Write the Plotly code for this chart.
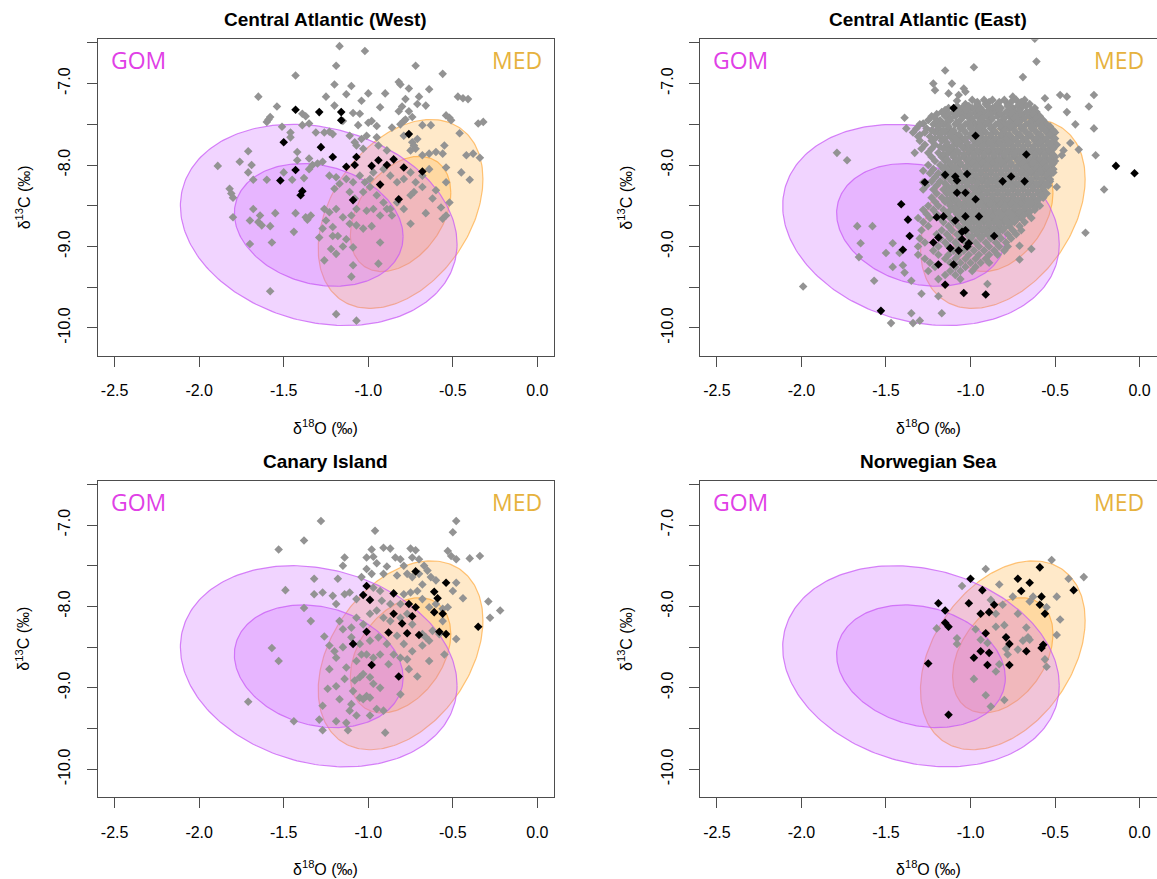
import numpy as np
import plotly.graph_objects as go

# ---------------------------------------------------------------------------
# Axis limits and ticks (shared by all four panels)
# ---------------------------------------------------------------------------
X_RANGE = [-2.6, 0.1]
Y_RANGE = [-10.344, -6.456]
x_ticks = [-2.5, -2.0, -1.5, -1.0, -0.5, 0.0]
x_tick_text = ["-2.5", "-2.0", "-1.5", "-1.0", "-0.5", "0.0"]
y_ticks = [-10.0, -9.0, -8.0, -7.0]
y_tick_text = ["-10.0", "-9.0", "-8.0", "-7.0"]
y_minor_ticks = [-9.5, -8.5, -7.5, -6.5]

panel_titles = ["Central Atlantic (West)", "Central Atlantic (East)",
                "Canary Island", "Norwegian Sea"]

# ---------------------------------------------------------------------------
# Baseline isotope ellipses: centre, half-extent of outer contour, correlation
# ---------------------------------------------------------------------------
gom_centre = (-1.293, -8.735)
gom_half = (0.818, 1.235)
gom_rho = -0.19
med_centre = (-0.809, -8.600)
med_half = (0.487, 1.160)
med_rho = 0.37
inner_scale = 0.61

# ---------------------------------------------------------------------------
# Otolith measurements (d18O, d13C)
# ---------------------------------------------------------------------------
west_other = [
    (-1.17, -6.54), (-1.02, -6.60), (-1.19, -6.78), (-0.72, -6.78), (-1.43, -6.90),
    (-0.56, -6.88), (-1.20, -7.01), (-1.10, -7.03), (-0.82, -6.98), (-0.81, -7.01),
    (-0.76, -7.06), (-0.64, -7.07), (-1.65, -7.16), (-1.25, -7.16), (-1.13, -7.13),
    (-1.00, -7.12), (-0.90, -7.12), (-1.04, -7.21), (-0.78, -7.19), (-0.70, -7.16),
    (-0.47, -7.16), (-0.44, -7.18), (-0.41, -7.19), (-1.54, -7.28), (-1.20, -7.27),
    (-0.93, -7.29), (-0.80, -7.28), (-0.71, -7.25), (-0.66, -7.27), (-0.82, -7.34),
    (-0.76, -7.34), (-1.09, -7.36), (-1.05, -7.37), (-1.39, -7.37), (-1.37, -7.40),
    (-1.58, -7.41), (-1.60, -7.47), (-1.59, -7.44), (-1.51, -7.53), (-1.39, -7.51),
    (-1.35, -7.49), (-1.15, -7.46), (-1.06, -7.51), (-1.00, -7.48), (-0.98, -7.46),
    (-0.95, -7.52), (-0.86, -7.54), (-0.81, -7.50), (-0.79, -7.46), (-0.78, -7.44),
    (-0.74, -7.41), (-0.68, -7.51), (-0.63, -7.51), (-0.54, -7.39), (-0.52, -7.42),
    (-0.51, -7.45), (-0.35, -7.49), (-0.32, -7.47), (-0.46, -7.61), (-1.46, -7.60),
    (-1.46, -7.66), (-1.31, -7.60), (-1.26, -7.60), (-1.23, -7.59), (-1.21, -7.62),
    (-1.11, -7.64), (-1.04, -7.68), (-1.01, -7.64), (-0.95, -7.66), (-1.07, -7.76),
    (-1.08, -7.72), (-1.03, -7.80), (-0.94, -7.76), (-0.89, -7.82), (-0.79, -7.64),
    (-0.74, -7.72), (-0.73, -7.76), (-0.72, -7.80), (-0.71, -7.68), (-0.75, -7.82),
    (-0.68, -7.88), (-0.64, -7.86), (-0.60, -7.84), (-0.55, -7.76), (-0.56, -7.86),
    (-0.42, -7.88), (-0.38, -7.86), (-0.34, -7.91), (-1.71, -7.83), (-1.76, -7.96),
    (-1.69, -8.00), (-1.89, -8.01), (-1.71, -8.09), (-1.68, -8.18), (-1.60, -8.18),
    (-1.82, -8.29), (-1.81, -8.35), (-1.80, -8.40), (-1.50, -8.09), (-1.45, -8.18),
    (-1.42, -7.84), (-1.42, -7.94), (-1.35, -7.92), (-1.35, -8.05), (-1.33, -8.00),
    (-1.30, -7.98), (-1.27, -7.96), (-1.23, -8.13), (-1.19, -8.15), (-1.13, -8.17),
    (-1.09, -8.21), (-1.05, -8.13), (-1.02, -8.21), (-0.99, -8.17), (-0.97, -8.09),
    (-0.91, -8.05), (-0.87, -8.13), (-0.83, -8.21), (-0.79, -8.17), (-0.75, -8.09),
    (-0.72, -8.21), (-0.68, -8.13), (-0.64, -8.05), (-0.60, -8.31), (-0.54, -8.03),
    (-0.45, -8.09), (-0.40, -8.18), (-0.54, -8.21), (-1.38, -8.16), (-1.20, -8.29),
    (-1.17, -8.23), (-1.11, -8.33), (-1.08, -8.41), (-1.03, -8.33), (-0.99, -8.27),
    (-0.95, -8.37), (-0.91, -8.46), (-0.87, -8.54), (-0.83, -8.46), (-0.79, -8.54),
    (-0.75, -8.37), (-0.73, -8.33), (-0.68, -8.27), (-0.62, -8.41), (-0.57, -8.52),
    (-0.52, -8.46), (-0.66, -8.59), (-0.56, -8.66), (-0.54, -8.62), (-0.75, -8.72),
    (-1.68, -8.54), (-1.64, -8.62), (-1.70, -8.68), (-1.65, -8.70), (-1.63, -8.74),
    (-1.58, -8.75), (-1.55, -8.59), (-1.80, -8.64), (-1.43, -8.59), (-1.37, -8.64),
    (-1.36, -8.67), (-1.34, -8.62), (-1.26, -8.54), (-1.23, -8.58), (-1.19, -8.54),
    (-1.15, -8.64), (-1.10, -8.62), (-1.07, -8.54), (-1.01, -8.56), (-0.97, -8.54),
    (-0.93, -8.62), (-0.89, -8.54), (-0.86, -8.62), (-1.25, -8.68), (-1.21, -8.76),
    (-1.11, -8.72), (-1.07, -8.74), (-1.03, -8.78), (-0.98, -8.75), (-1.27, -8.78),
    (-1.29, -8.89), (-1.21, -8.87), (-1.18, -8.87), (-1.70, -8.97), (-1.57, -8.95),
    (-1.44, -8.82), (-1.13, -8.91), (-1.09, -9.01), (-0.93, -8.95), (-1.22, -9.03),
    (-1.19, -9.09), (-1.15, -9.00), (-1.26, -9.17), (-1.09, -9.23), (-0.94, -9.21),
    (-1.10, -9.37), (-1.58, -9.55), (-1.19, -9.83), (-1.07, -9.91),
]
west_focal = [
    (-1.43, -7.32), (-1.29, -7.35), (-1.16, -7.35), (-1.16, -7.45), (-1.50, -7.72),
    (-1.28, -7.78), (-1.21, -7.90), (-1.43, -8.06), (-1.52, -8.19), (-1.39, -8.32),
    (-1.40, -8.37), (-1.07, -7.90), (-1.13, -8.02), (-1.08, -8.00), (-0.98, -8.01),
    (-0.94, -7.94), (-0.89, -8.00), (-0.85, -7.93), (-0.79, -8.03), (-0.68, -8.08),
    (-0.76, -7.62), (-0.93, -8.24), (-1.09, -8.43), (-0.82, -8.42),
]

east_other = [
    (-0.62, -6.45), (-0.61, -6.73), (-1.15, -6.84), (-0.98, -6.80), (-0.69, -6.92),
    (-1.22, -7.00), (-1.21, -7.08), (-1.11, -7.00), (-1.13, -7.12), (-1.07, -7.14),
    (-1.04, -7.06), (-1.03, -7.10), (-1.08, -7.21), (-0.75, -7.16), (-0.69, -7.25),
    (-0.56, -7.18), (-0.47, -7.14), (-0.43, -7.16), (-0.27, -7.14), (-0.30, -7.28),
    (-0.43, -7.35), (-0.54, -7.29), (-0.38, -7.50), (-0.27, -7.55), (-0.26, -7.88),
    (-0.41, -7.73), (-0.36, -7.81), (-0.46, -7.88), (-0.45, -7.82), (-0.51, -7.98),
    (-0.51, -8.09), (-0.49, -8.27), (-0.21, -8.30), (-0.32, -8.83), (-1.79, -7.85),
    (-1.73, -7.94), (-1.99, -9.49), (-1.67, -8.75), (-1.58, -8.75), (-1.65, -8.96),
    (-1.66, -9.13), (-1.50, -9.08), (-1.46, -8.96), (-1.46, -9.25), (-1.57, -9.42),
    (-1.42, -9.08), (-1.40, -9.23), (-1.39, -9.32), (-1.35, -9.42), (-1.29, -9.58),
    (-1.19, -9.61), (-1.17, -9.82), (-1.35, -9.82), (-1.47, -9.94), (-1.34, -9.94),
    (-1.30, -9.91), (-0.90, -9.46), (-0.71, -9.16), (-0.64, -9.03), (-0.71, -8.99),
    (-1.39, -7.42), (-1.38, -7.55), (-1.33, -7.85), (-1.28, -7.49), (-1.28, -8.07),
    (-1.28, -8.21), (-1.28, -8.30), (-1.30, -7.63),
]
# densely sampled core of the eastern cloud, listed by d13C row
east_core_rows = [
    (-7.20, [-0.99, -0.92, -0.87, -0.80, -0.73, -0.68]),
    (-7.25, [-1.03, -0.96, -0.91, -0.84, -0.78, -0.71, -0.65]),
    (-7.30, [-1.13, -1.05, -0.99, -0.94, -0.87, -0.82, -0.75, -0.70, -0.62]),
    (-7.35, [-1.17, -1.10, -1.04, -0.97, -0.92, -0.85, -0.79, -0.74, -0.67, -0.61]),
    (-7.40, [-1.23, -1.15, -1.09, -1.02, -0.96, -0.90, -0.84, -0.77, -0.72, -0.65, -0.59]),
    (-7.45, [-1.25, -1.18, -1.12, -1.06, -0.99, -0.93, -0.88, -0.81, -0.75, -0.70, -0.63, -0.57]),
    (-7.50, [-1.30, -1.22, -1.16, -1.09, -1.03, -0.97, -0.91, -0.85, -0.79, -0.73, -0.67, -0.61, -0.55]),
    (-7.55, [-1.32, -1.26, -1.19, -1.13, -1.06, -1.00, -0.95, -0.88, -0.82, -0.77, -0.70, -0.64, -0.58, -0.53]),
    (-7.60, [-1.34, -1.27, -1.21, -1.15, -1.10, -1.03, -0.97, -0.91, -0.85, -0.80, -0.73, -0.67, -0.61, -0.55, -0.50]),
    (-7.65, [-1.31, -1.24, -1.18, -1.12, -1.06, -1.00, -0.94, -0.88, -0.82, -0.76, -0.70, -0.64, -0.58, -0.52]),
    (-7.70, [-1.30, -1.23, -1.17, -1.10, -1.05, -0.98, -0.92, -0.86, -0.80, -0.75, -0.69, -0.62, -0.57, -0.51]),
    (-7.75, [-1.27, -1.21, -1.14, -1.08, -1.02, -0.96, -0.90, -0.84, -0.78, -0.72, -0.66, -0.60, -0.54, -0.49]),
    (-7.80, [-1.29, -1.23, -1.16, -1.11, -1.04, -0.99, -0.93, -0.87, -0.81, -0.75, -0.69, -0.63, -0.57, -0.51]),
    (-7.85, [-1.25, -1.19, -1.13, -1.07, -1.01, -0.95, -0.89, -0.83, -0.77, -0.71, -0.65, -0.59, -0.53]),
    (-7.90, [-1.23, -1.17, -1.10, -1.04, -0.98, -0.92, -0.86, -0.80, -0.74, -0.68, -0.62, -0.56, -0.50]),
    (-7.95, [-1.21, -1.15, -1.09, -1.02, -0.96, -0.90, -0.84, -0.79, -0.72, -0.66, -0.60, -0.55, -0.50]),
    (-8.00, [-1.25, -1.18, -1.12, -1.06, -1.00, -0.94, -0.88, -0.82, -0.76, -0.70, -0.64, -0.58, -0.52]),
    (-8.05, [-1.22, -1.16, -1.10, -1.03, -0.97, -0.91, -0.85, -0.79, -0.73, -0.68, -0.62, -0.56, -0.51]),
    (-8.10, [-1.24, -1.19, -1.13, -1.06, -1.00, -0.94, -0.88, -0.82, -0.76, -0.70, -0.64, -0.58, -0.52]),
    (-8.15, [-1.21, -1.15, -1.08, -1.03, -0.97, -0.91, -0.85, -0.79, -0.73, -0.67, -0.61, -0.55]),
    (-8.20, [-1.23, -1.18, -1.11, -1.05, -0.99, -0.93, -0.87, -0.81, -0.76, -0.70, -0.64, -0.58, -0.53]),
    (-8.25, [-1.26, -1.20, -1.14, -1.08, -1.02, -0.96, -0.90, -0.84, -0.78, -0.72, -0.66, -0.60, -0.54]),
    (-8.30, [-1.22, -1.16, -1.10, -1.05, -0.98, -0.93, -0.87, -0.81, -0.75, -0.69, -0.63, -0.57]),
    (-8.35, [-1.20, -1.14, -1.08, -1.02, -0.96, -0.90, -0.84, -0.78, -0.72, -0.66, -0.60, -0.55]),
    (-8.40, [-1.23, -1.17, -1.11, -1.04, -0.99, -0.93, -0.87, -0.81, -0.75, -0.69, -0.63, -0.57]),
    (-8.45, [-1.21, -1.15, -1.09, -1.03, -0.97, -0.91, -0.85, -0.79, -0.73, -0.67, -0.61]),
    (-8.50, [-1.25, -1.19, -1.12, -1.07, -1.01, -0.95, -0.89, -0.83, -0.77, -0.71, -0.65, -0.59]),
    (-8.55, [-1.28, -1.22, -1.16, -1.10, -1.04, -0.98, -0.92, -0.86, -0.80, -0.74, -0.68, -0.62]),
    (-8.60, [-1.26, -1.20, -1.14, -1.08, -1.02, -0.96, -0.90, -0.84, -0.78, -0.72, -0.66]),
    (-8.65, [-1.31, -1.24, -1.18, -1.12, -1.06, -1.00, -0.94, -0.88, -0.82, -0.76, -0.70, -0.64]),
    (-8.70, [-1.28, -1.16, -1.10, -1.04, -0.98, -0.92, -0.86, -0.80, -0.74, -0.68]),
    (-8.75, [-1.25, -1.13, -1.07, -1.01, -0.95, -0.89, -0.83, -0.77, -0.71]),
    (-8.80, [-1.29, -1.17, -1.11, -1.05, -0.99, -0.93, -0.87, -0.81, -0.75, -0.70]),
    (-8.85, [-1.20, -1.14, -1.08, -1.02, -0.96, -0.90, -0.84, -0.78, -0.73]),
    (-8.90, [-1.30, -1.18, -1.12, -1.06, -1.00, -0.94, -0.88, -0.82, -0.76]),
    (-8.95, [-1.27, -1.15, -1.09, -1.03, -0.97, -0.91, -0.85, -0.79]),
    (-9.00, [-1.31, -1.19, -1.13, -1.07, -1.01, -0.95, -0.89, -0.83, -0.78]),
    (-9.05, [-1.22, -1.10, -1.04, -0.98, -0.92, -0.86, -0.80]),
    (-9.10, [-1.31, -1.19, -1.13, -1.07, -1.01, -0.95, -0.89, -0.84]),
    (-9.15, [-1.27, -1.15, -1.09, -1.03, -0.97, -0.91]),
    (-9.20, [-1.24, -1.12, -1.06, -1.00, -0.94, -0.89]),
    (-9.25, [-1.21, -1.09, -1.03, -0.97]),
    (-9.30, [-1.25, -1.12, -1.06, -0.99]),
    (-9.35, [-1.15, -1.09]),
    (-9.40, [-1.19, -1.06]),
]
# second, interleaved pass through the dense centre of the eastern cloud
east_core_rows_mid = [
    (-7.225, [-0.96, -0.89, -0.83, -0.76, -0.70]),
    (-7.275, [-1.08, -1.01, -0.96, -0.90, -0.85, -0.78, -0.72, -0.67]),
    (-7.325, [-1.15, -1.08, -1.02, -0.95, -0.89, -0.83, -0.77, -0.71, -0.64]),
    (-7.375, [-1.20, -1.13, -1.06, -1.00, -0.94, -0.88, -0.82, -0.76, -0.70, -0.63]),
    (-7.425, [-1.21, -1.12, -1.05, -0.99, -0.93, -0.87, -0.80, -0.74, -0.68, -0.61]),
    (-7.475, [-1.20, -1.14, -1.08, -1.01, -0.95, -0.90, -0.83, -0.77, -0.72, -0.65, -0.59]),
    (-7.525, [-1.19, -1.13, -1.06, -1.00, -0.94, -0.88, -0.82, -0.76, -0.70, -0.64, -0.58, -0.53]),
    (-7.575, [-1.23, -1.16, -1.10, -1.04, -0.98, -0.92, -0.86, -0.80, -0.74, -0.68, -0.62, -0.56, -0.51]),
    (-7.625, [-1.18, -1.12, -1.07, -1.00, -0.94, -0.88, -0.82, -0.77, -0.71, -0.65, -0.59, -0.53]),
    (-7.675, [-1.21, -1.15, -1.09, -1.03, -0.97, -0.91, -0.85, -0.79, -0.73, -0.67, -0.61, -0.55, -0.50]),
    (-7.725, [-1.14, -1.07, -1.02, -0.95, -0.89, -0.83, -0.77, -0.72, -0.66, -0.59, -0.54]),
    (-7.775, [-1.18, -1.11, -1.05, -0.99, -0.93, -0.87, -0.81, -0.75, -0.69, -0.63, -0.57, -0.52]),
    (-7.825, [-1.13, -1.08, -1.01, -0.96, -0.90, -0.84, -0.78, -0.72, -0.66, -0.60, -0.54]),
    (-7.875, [-1.16, -1.10, -1.04, -0.98, -0.92, -0.86, -0.80, -0.74, -0.68, -0.62, -0.56, -0.51]),
    (-7.925, [-1.14, -1.07, -1.01, -0.95, -0.89, -0.83, -0.77, -0.71, -0.65, -0.59, -0.53]),
    (-7.975, [-1.12, -1.06, -0.99, -0.93, -0.87, -0.81, -0.76, -0.69, -0.63, -0.57, -0.52]),
    (-8.025, [-1.15, -1.09, -1.03, -0.97, -0.91, -0.85, -0.79, -0.73, -0.67, -0.61, -0.55]),
    (-8.075, [-1.13, -1.07, -1.00, -0.94, -0.88, -0.82, -0.76, -0.70, -0.65, -0.59, -0.53]),
    (-8.125, [-1.16, -1.10, -1.03, -0.97, -0.91, -0.85, -0.79, -0.73, -0.67, -0.61, -0.55]),
    (-8.175, [-1.12, -1.05, -1.00, -0.94, -0.88, -0.82, -0.76, -0.70, -0.64, -0.58, -0.53]),
    (-8.225, [-1.15, -1.08, -1.02, -0.96, -0.90, -0.84, -0.78, -0.73, -0.67, -0.61, -0.55]),
    (-8.275, [-1.11, -1.05, -0.99, -0.93, -0.87, -0.81, -0.75, -0.69, -0.63, -0.57]),
    (-8.325, [-1.13, -1.07, -1.02, -0.95, -0.90, -0.84, -0.78, -0.72, -0.66, -0.60]),
    (-8.375, [-1.11, -1.05, -0.99, -0.93, -0.87, -0.81, -0.75, -0.69, -0.63, -0.58]),
    (-8.425, [-1.14, -1.08, -1.01, -0.96, -0.90, -0.84, -0.78, -0.72, -0.66, -0.60]),
    (-8.475, [-1.12, -1.06, -1.00, -0.94, -0.88, -0.82, -0.76, -0.70, -0.64]),
    (-8.525, [-1.09, -1.04, -0.98, -0.92, -0.86, -0.80, -0.74, -0.68, -0.62]),
    (-8.575, [-1.13, -1.07, -1.01, -0.95, -0.89, -0.83, -0.77, -0.71, -0.65]),
    (-8.625, [-1.05, -0.99, -0.93, -0.87, -0.81, -0.75, -0.69]),
    (-8.675, [-1.09, -1.03, -0.97, -0.91, -0.85, -0.79, -0.73]),
    (-8.725, [-1.01, -0.95, -0.89, -0.83, -0.77]),
    (-8.775, [-1.04, -0.98, -0.92, -0.86, -0.80]),
    (-8.825, [-0.96, -0.90, -0.84]),
    (-8.875, [-0.99, -0.93, -0.87]),
]
east_focal = [
    (-1.10, -7.30), (-0.97, -7.64), (-0.67, -7.87), (-0.14, -8.01), (-0.03, -8.10),
    (-1.15, -8.12), (-1.09, -8.14), (-1.08, -8.19), (-1.02, -8.11), (-0.81, -8.20),
    (-0.76, -8.14), (-0.68, -8.20), (-1.27, -8.21), (-1.08, -8.34), (-1.03, -8.34),
    (-0.97, -8.42), (-1.41, -8.48), (-1.37, -8.67), (-1.20, -8.64), (-1.16, -8.63),
    (-1.09, -8.68), (-1.03, -8.63), (-0.95, -8.63), (-1.36, -8.87), (-1.22, -8.95),
    (-1.19, -8.89), (-1.05, -8.82), (-1.03, -8.80), (-1.05, -8.91), (-1.01, -8.96),
    (-1.02, -9.00), (-1.12, -9.02), (-1.07, -9.05), (-0.86, -8.87), (-1.40, -9.04),
    (-1.19, -9.22), (-1.10, -9.22), (-1.15, -9.47), (-1.04, -9.57), (-0.91, -9.59),
    (-1.53, -9.79),
]

canary_other = [
    (-1.28, -6.95), (-0.48, -6.95), (-0.96, -7.07), (-0.50, -7.09), (-1.38, -7.19),
    (-1.53, -7.30), (-0.98, -7.30), (-0.91, -7.28), (-0.87, -7.29), (-0.75, -7.29),
    (-0.72, -7.31), (-0.53, -7.32), (-0.51, -7.38), (-0.48, -7.42), (-0.40, -7.41),
    (-0.34, -7.38), (-1.14, -7.40), (-1.15, -7.50), (-1.01, -7.40), (-0.97, -7.39),
    (-0.95, -7.47), (-0.89, -7.51), (-0.84, -7.40), (-0.81, -7.42), (-0.79, -7.50),
    (-0.74, -7.40), (-0.70, -7.42), (-0.67, -7.50), (-0.65, -7.56), (-0.63, -7.64),
    (-0.60, -7.68), (-1.01, -7.54), (-0.98, -7.60), (-0.91, -7.60), (-0.83, -7.62),
    (-0.77, -7.60), (-0.74, -7.64), (-0.70, -7.60), (-0.68, -7.73), (-1.49, -7.80),
    (-1.32, -7.66), (-1.18, -7.66), (-1.32, -7.85), (-1.27, -7.83), (-1.21, -7.87),
    (-1.19, -7.97), (-1.14, -7.85), (-1.11, -7.83), (-1.07, -7.91), (-1.04, -7.64),
    (-0.97, -7.77), (-0.93, -7.81), (-0.92, -7.93), (-0.87, -7.97), (-0.81, -7.97),
    (-0.79, -7.85), (-0.75, -7.83), (-0.71, -7.81), (-0.68, -7.91), (-0.64, -8.01),
    (-0.60, -7.97), (-0.56, -8.03), (-0.53, -8.01), (-0.50, -7.81), (-0.48, -7.71),
    (-0.44, -7.90), (-0.29, -7.94), (-0.28, -8.14), (-0.22, -8.05), (-1.38, -8.02),
    (-1.34, -8.18), (-1.17, -8.18), (-1.15, -8.28), (-1.10, -8.26), (-1.07, -8.14),
    (-1.03, -8.22), (-0.99, -8.09), (-0.95, -8.05), (-0.91, -8.14), (-0.87, -8.18),
    (-0.81, -8.14), (-0.77, -8.09), (-0.74, -8.22), (-0.68, -8.34), (-0.64, -8.42),
    (-0.62, -8.30), (-0.56, -8.18), (-0.48, -8.40), (-1.26, -8.37), (-1.23, -8.48),
    (-1.20, -8.55), (-1.15, -8.50), (-1.10, -8.38), (-1.05, -8.46), (-0.99, -8.42),
    (-0.94, -8.38), (-0.89, -8.46), (-0.83, -8.36), (-0.79, -8.46), (-0.74, -8.55),
    (-0.68, -8.48), (-0.66, -8.38), (-0.58, -8.34), (-0.55, -8.59), (-1.57, -8.51),
    (-1.53, -8.67), (-1.23, -8.77), (-1.19, -8.63), (-1.13, -8.75), (-1.07, -8.67),
    (-1.04, -8.59), (-1.01, -8.59), (-0.97, -8.63), (-0.93, -8.59), (-0.88, -8.71),
    (-0.85, -8.59), (-0.81, -8.63), (-0.77, -8.65), (-0.76, -8.77), (-0.71, -8.86),
    (-0.64, -8.67), (-1.14, -8.89), (-1.08, -8.91), (-1.05, -8.87), (-1.03, -8.83),
    (-0.99, -8.87), (-0.97, -8.95), (-0.93, -9.00), (-1.24, -9.01), (-1.19, -8.98),
    (-1.09, -9.04), (-1.05, -9.12), (-1.01, -9.10), (-0.99, -9.12), (-0.81, -9.08),
    (-1.17, -9.14), (-1.10, -9.20), (-1.11, -9.28), (-1.07, -9.34), (-1.03, -9.14),
    (-0.99, -9.34), (-0.95, -9.26), (-0.91, -9.28), (-1.27, -9.22), (-1.29, -9.39),
    (-1.27, -9.52), (-1.19, -9.41), (-1.13, -9.43), (-1.12, -9.52), (-0.90, -9.55),
    (-1.71, -9.17), (-1.44, -9.41),
]
canary_focal = [
    (-0.72, -7.57), (-1.01, -7.75), (-1.03, -7.86), (-0.99, -7.92), (-0.85, -7.84),
    (-0.76, -7.97), (-0.72, -8.01), (-0.74, -8.12), (-0.61, -7.82), (-0.59, -7.90),
    (-0.54, -7.71), (-0.61, -8.07), (-0.56, -8.09), (-0.85, -8.09), (-0.80, -8.21),
    (-1.01, -8.31), (-0.88, -8.32), (-0.77, -8.33), (-0.70, -8.35), (-0.58, -8.31),
    (-0.54, -8.34), (-0.35, -8.25), (-1.09, -8.46), (-0.98, -8.72), (-0.82, -8.86),
]

norway_other = [
    (-0.52, -7.43), (-0.91, -7.54), (-1.05, -7.75), (-0.83, -7.73), (-0.33, -7.64),
    (-0.42, -7.66), (-0.75, -7.88), (-0.88, -7.92), (-0.63, -7.88), (-0.65, -7.94),
    (-0.55, -8.01), (-0.49, -7.88), (-0.81, -7.98), (-0.85, -8.09), (-0.72, -8.09),
    (-0.47, -8.16), (-0.49, -8.35), (-1.20, -8.27), (-0.97, -8.28), (-0.85, -8.25),
    (-0.80, -8.23), (-0.67, -8.26), (-1.08, -8.39), (-1.08, -8.46), (-0.94, -8.41),
    (-0.90, -8.45), (-0.79, -8.52), (-0.78, -8.59), (-0.72, -8.53), (-0.69, -8.42),
    (-0.66, -8.38), (-0.65, -8.41), (-0.56, -8.65), (-0.55, -8.74), (-0.83, -8.71),
    (-0.85, -8.80), (-0.98, -8.89), (-0.91, -9.09), (-0.80, -9.15), (-0.88, -9.23),
]
norway_focal = [
    (-0.59, -7.52), (-0.72, -7.66), (-0.65, -7.71), (-0.70, -7.81), (-0.39, -7.80),
    (-1.00, -7.66), (-0.93, -7.80), (-0.58, -7.88), (-0.59, -7.98), (-0.56, -8.09),
    (-0.86, -7.98), (-1.01, -7.96), (-0.89, -8.07), (-0.94, -8.09), (-1.19, -7.96),
    (-1.15, -8.05), (-1.15, -8.20), (-1.13, -8.25), (-0.91, -8.33), (-0.79, -8.38),
    (-0.77, -8.46), (-0.67, -8.55), (-0.57, -8.47), (-0.58, -8.51), (-0.94, -8.55),
    (-0.89, -8.57), (-0.98, -8.63), (-0.90, -8.72), (-0.77, -8.72), (-1.25, -8.70),
    (-1.13, -9.33),
]

# ---------------------------------------------------------------------------
# Styling
# ---------------------------------------------------------------------------
AXIS_FONT = "Liberation Sans, Arial, sans-serif"
LABEL_FONT = "Open Sans, Noto Sans, sans-serif"
LINE_COLOR = "#4d4d4d"
GREY = "#939393"
GOM_TEXT = "#E040E6"
MED_TEXT = "#E6B23E"
MED_FILL = "rgba(255,175,60,0.28)"
MED_LINE = "rgba(255,165,50,0.65)"
GOM_FILL = "rgba(204,102,255,0.28)"
GOM_LINE = "rgba(200,90,245,0.75)"

# panel placement in paper coordinates
W, H = 1157, 879
x_domains = [(97.7 / W, 554.3 / W), (700.0 / W, 1156.5 / W)]
y_domains = [(1 - 356.0 / H, 1 - 39.3 / H), (1 - 797.3 / H, 1 - 480.7 / H)]


def ellipse(centre, half, rho, scale):
    t = np.linspace(0, 2 * np.pi, 241)
    ex = centre[0] + scale * half[0] * np.cos(t)
    ey = centre[1] + scale * half[1] * (rho * np.cos(t) + np.sqrt(1 - rho ** 2) * np.sin(t))
    return ex, ey


def flatten_rows(rows):
    pts = []
    for yv, xs in rows:
        pts.extend((xv, yv) for xv in xs)
    return pts


east_all = east_other + flatten_rows(east_core_rows) + flatten_rows(east_core_rows_mid)
panel_other = [west_other, east_all, canary_other, norway_other]
panel_focal = [west_focal, east_focal, canary_focal, norway_focal]

fig = go.Figure()
annotations = []

for i in range(4):
    n = i + 1
    xa = "x" if n == 1 else f"x{n}"
    ya = "y" if n == 1 else f"y{n}"
    col, row = i % 2, i // 2
    xd, yd = x_domains[col], y_domains[row]

    # baseline contours: MED first, GOM drawn over it
    for centre, half, rho, fill, line in [
        (med_centre, med_half, med_rho, MED_FILL, MED_LINE),
        (gom_centre, gom_half, gom_rho, GOM_FILL, GOM_LINE),
    ]:
        for scale in (1.0, inner_scale):
            ex, ey = ellipse(centre, half, rho, scale)
            fig.add_trace(go.Scatter(
                x=ex, y=ey, mode="lines", fill="toself", fillcolor=fill,
                line=dict(color=line, width=1.2), xaxis=xa, yaxis=ya,
                hoverinfo="skip", showlegend=False))

    other = panel_other[i]
    focal = panel_focal[i]
    fig.add_trace(go.Scatter(
        x=[p[0] for p in other], y=[p[1] for p in other], mode="markers",
        marker=dict(symbol="diamond", size=6.6, color=GREY, line=dict(width=0)),
        xaxis=xa, yaxis=ya, showlegend=False))
    fig.add_trace(go.Scatter(
        x=[p[0] for p in focal], y=[p[1] for p in focal], mode="markers",
        marker=dict(symbol="diamond", size=6.6, color="black", line=dict(width=0)),
        xaxis=xa, yaxis=ya, showlegend=False))

    xkey = "xaxis" if n == 1 else f"xaxis{n}"
    ykey = "yaxis" if n == 1 else f"yaxis{n}"
    fig.layout[xkey] = dict(
        domain=list(xd), anchor=ya, range=X_RANGE, tickmode="array",
        tickvals=x_ticks, ticktext=x_tick_text, ticks="outside", ticklen=10,
        tickcolor=LINE_COLOR, tickwidth=1, showline=True, mirror=True,
        linecolor=LINE_COLOR, linewidth=1, showgrid=False, zeroline=False,
        tickfont=dict(family=AXIS_FONT, size=16, color="black"),
        ticklabelstandoff=10)
    fig.layout[ykey] = dict(
        domain=list(yd), anchor=xa, range=Y_RANGE, tickmode="array",
        tickvals=y_ticks, ticktext=y_tick_text, ticks="outside", ticklen=10,
        tickcolor=LINE_COLOR, tickwidth=1, showline=True, mirror=True,
        linecolor=LINE_COLOR, linewidth=1, showgrid=False, zeroline=False,
        minor=dict(tickmode="array", tickvals=y_minor_ticks, ticks="outside",
                   ticklen=10, tickcolor=LINE_COLOR, tickwidth=1, showgrid=False),
        tickangle=-90, tickfont=dict(family=AXIS_FONT, size=16, color="black"),
        ticklabelstandoff=10)

    xc = (xd[0] + xd[1]) / 2
    # panel title
    annotations.append(dict(
        text="<b>" + panel_titles[i] + "</b>", x=xc, y=yd[1] + 19.5 / H,
        xref="paper", yref="paper", xanchor="center", yanchor="middle",
        showarrow=False, font=dict(family=AXIS_FONT, size=19, color="black")))
    # axis titles
    annotations.append(dict(
        text="δ<sup>18</sup>O (‰)", x=xc, y=yd[0] - 70.7 / H,
        xref="paper", yref="paper", xanchor="center", yanchor="middle",
        showarrow=False, font=dict(family=AXIS_FONT, size=16, color="black")))
    annotations.append(dict(
        text="δ<sup>13</sup>C (‰)", x=xd[0] - 75.0 / W, y=(yd[0] + yd[1]) / 2,
        xref="paper", yref="paper", xanchor="center", yanchor="middle",
        textangle=-90, showarrow=False,
        font=dict(family=AXIS_FONT, size=16, color="black")))
    # source-population labels
    annotations.append(dict(
        text="GOM", x=-2.535, y=-6.714, xref=xa, yref=ya, xanchor="left",
        yanchor="middle", showarrow=False,
        font=dict(family=LABEL_FONT, size=23, color=GOM_TEXT)))
    annotations.append(dict(
        text="MED", x=0.04, y=-6.714, xref=xa, yref=ya, xanchor="right",
        yanchor="middle", showarrow=False,
        font=dict(family=LABEL_FONT, size=23, color=MED_TEXT)))

fig.update_layout(
    width=W, height=H, autosize=False,
    margin=dict(l=0, r=0, t=0, b=0),
    paper_bgcolor="white", plot_bgcolor="white",
    showlegend=False, annotations=annotations)

fig.write_html("out.html")
